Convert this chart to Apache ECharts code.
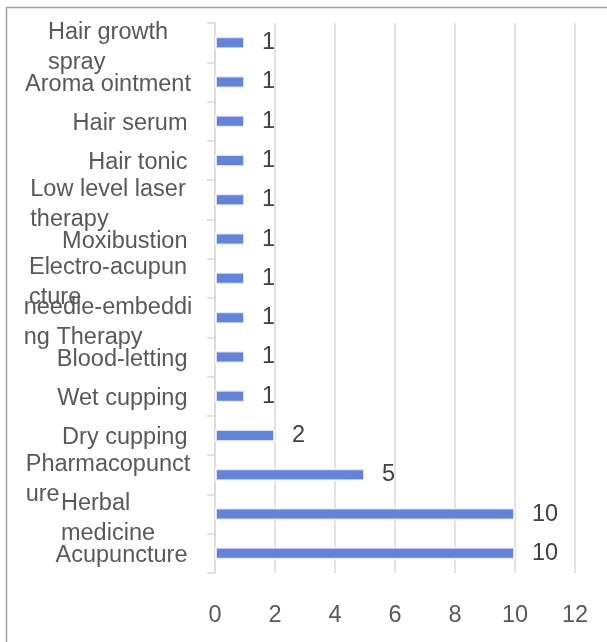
<!DOCTYPE html>
<html>
<head>
<meta charset="utf-8">
<script src="https://cdn.jsdelivr.net/npm/echarts@6/dist/echarts.min.js"></script>
<style>html,body{margin:0;padding:0;background:#fff}#c{width:607px;height:642px}</style>
</head>
<body>
<div id="c"></div>
<script>
const categories = [
  "Hair growth\nspray",
  "Aroma ointment",
  "Hair serum",
  "Hair tonic",
  "Low level laser\ntherapy",
  "Moxibustion",
  "Electro-acupun\ncture",
  "needle-embeddi\nng Therapy",
  "Blood-letting",
  "Wet cupping",
  "Dry cupping",
  "Pharmacopunct\nure",
  "Herbal\nmedicine",
  "Acupuncture"
];
const values = [1, 1, 1, 1, 1, 1, 1, 1, 1, 1, 2, 5, 10, 10];
const xTicks = { min: 0, max: 12, interval: 2 };

const FONT = '"Liberation Sans", Arial, sans-serif';
const FS = 23.5;
const ctx = document.createElement('canvas').getContext('2d');
ctx.font = FS + 'px ' + FONT;
const ANCHOR = 193, RIGHT = 188, CENTER = 108.5;
const rich = {};
categories.forEach((c, i) => {
  const lines = c.split('\n');
  const maxW = Math.max(...lines.map(l => ctx.measureText(l).width));
  let left;
  if (lines.length > 1 || maxW > 2 * (RIGHT - CENTER)) left = CENTER - maxW / 2;
  else left = RIGHT - maxW;
  rich['t' + i] = {
    width: Math.max(ANCHOR - left, maxW),
    align: 'left',
    fontSize: FS, fontFamily: FONT, color: '#595959', lineHeight: 30
  };
});
const yData = categories.map(c => ({
  value: c,
  textStyle: { padding: [c.indexOf('\n') >= 0 ? 9 : 5, 0, 0, 0] }
}));

const chart = echarts.init(document.getElementById('c'));
chart.setOption({
  animation: false,
  backgroundColor: '#fff',
  grid: { left: 215, right: 32, top: 23, bottom: 69, containLabel: false },
  xAxis: {
    type: 'value', min: xTicks.min, max: xTicks.max, interval: xTicks.interval,
    axisLine: { show: false }, axisTick: { show: false },
    splitLine: { show: true, lineStyle: { color: '#d9d9d9', width: 1.5 } },
    axisLabel: { fontSize: FS, fontFamily: FONT, color: '#595959', margin: 31 }
  },
  yAxis: {
    type: 'category', data: yData, inverse: true,
    axisLine: { show: true, lineStyle: { color: '#d9d9d9', width: 1.5 } },
    axisTick: { show: true, length: 8, lineStyle: { color: '#d9d9d9', width: 1.5 } },
    axisLabel: {
      interval: 0, margin: 215.5 - ANCHOR, align: 'right',
      formatter: (v, i) => v.split('\n').map(l => '{t' + i + '|' + l + '}').join('\n'),
      rich: rich
    }
  },
  series: [{
    type: 'bar', data: values, barWidth: 13,
    itemStyle: { color: '#6283d8', borderColor: 'rgba(255,255,255,0.75)', borderWidth: 2 },
    label: { show: true, position: 'right', distance: 17, fontSize: FS, fontFamily: FONT, color: '#404040' }
  }],
  graphic: [
    { type: 'line', shape: { x1: 6, y1: 7.5, x2: 607, y2: 7.5 }, style: { stroke: '#a0a0a0', lineWidth: 1.5 } },
    { type: 'line', shape: { x1: 6.5, y1: 7, x2: 6.5, y2: 642 }, style: { stroke: '#a0a0a0', lineWidth: 1.5 } }
  ]
});
</script>
</body>
</html>
